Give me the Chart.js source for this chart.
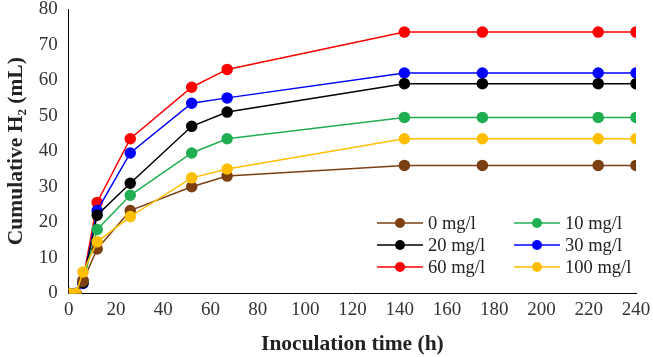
<!DOCTYPE html>
<html>
<head>
<meta charset="utf-8">
<script src="https://cdn.jsdelivr.net/npm/chart.js@4"></script>
<style>
  html, body { margin: 0; padding: 0; background: #fff; }
  #wrap { width: 653px; height: 357px; }
</style>
</head>
<body>
<div id="wrap"><canvas id="h2Chart"></canvas></div>
<script>
// Inoculation time (h)
const hours = [0, 3, 6, 12, 26, 52, 67, 142, 175, 224, 240];

// cumulative H2 (mL) per dose
const dose0 = [0, 0, 3.5, 12.5, 23.3, 30, 33, 36, 36, 36, 36];
const dose10 = [0, 0, 3.5, 18, 27.6, 39.5, 43.5, 49.5, 49.5, 49.5, 49.5];
const dose20 = [0, 0, 3, 22, 31, 47, 51, 59, 59, 59, 59];
const dose30 = [0, 0, 2.8, 23.3, 39.5, 53.5, 55, 62, 62, 62, 62];
const dose60 = [0, 0, 3.7, 25.6, 43.5, 58, 63, 73.5, 73.5, 73.5, 73.5];
const dose100 = [0, 0, 6, 14.5, 21.6, 32.5, 35, 43.5, 43.5, 43.5, 43.5];

const labels = ['0 mg/l', '10 mg/l', '20 mg/l', '30 mg/l', '60 mg/l', '100 mg/l'];
const colors = ['#7b3f12', '#1fae50', '#000000', '#0000ff', '#ff0000', '#ffbe00'];
const series = [dose0, dose10, dose20, dose30, dose60, dose100];

const xTicks = [0, 20, 40, 60, 80, 100, 120, 140, 160, 180, 200, 220, 240];

const datasets = series.map((vals, i) => ({
    label: labels[i],
    data: hours.map((h, j) => ({ x: h, y: vals[j] })),
    borderColor: colors[i],
    backgroundColor: colors[i],
    borderWidth: 1.5,
    pointRadius: 5,
    pointHoverRadius: 5,
    fill: false,
    tension: 0
}));

// draw order: yellow and brown under the rest like the original
const ordered = [datasets[5], datasets[0], datasets[1], datasets[2], datasets[3], datasets[4]];

// legend drawn inside the plot, two columns
const boxLegend = {
    id: 'boxLegend',
    afterDraw(chart) {
        const c = chart.ctx;
        const cols = [377, 514];
        const rows = [223, 245, 267];
        c.save();
        c.font = '18.5px "Liberation Serif"';
        c.textBaseline = 'middle';
        datasets.forEach((ds, i) => {
            const x = cols[i % 2];
            const y = rows[Math.floor(i / 2)];
            c.strokeStyle = ds.borderColor;
            c.lineWidth = 1.5;
            c.beginPath();
            c.moveTo(x, y);
            c.lineTo(x + 46, y);
            c.stroke();
            c.fillStyle = ds.borderColor;
            c.beginPath();
            c.arc(x + 23, y, 5, 0, Math.PI * 2);
            c.fill();
            c.fillStyle = '#222';
            c.fillText(ds.label, x + 51, y + 1);
        });
        c.restore();
    }
};

const ctx = document.getElementById('h2Chart').getContext('2d');
new Chart(ctx, {
    type: 'line',
    data: { datasets: ordered },
    plugins: [boxLegend],
    options: {
        responsive: true,
        maintainAspectRatio: false,
        animation: false,
        layout: { autoPadding: false, padding: { top: 9, right: 17, bottom: 0, left: 4 } },
        plugins: {
            legend: { display: false },
            tooltip: { enabled: false }
        },
        scales: {
            x: {
                type: 'linear',
                min: 0,
                max: 240,
                afterBuildTicks: (axis) => { axis.ticks = xTicks.map(v => ({ value: v })); },
                grid: { display: false, drawTicks: true, tickLength: 5, tickColor: '#000' },
                border: { color: '#000', width: 1 },
                ticks: {
                    color: '#333',
                    font: { family: 'Liberation Serif', size: 19 },
                    maxRotation: 0,
                    autoSkip: false,
                    padding: 0
                },
                title: {
                    display: true,
                    text: 'Inoculation time (h)',
                    color: '#222',
                    font: { family: 'Liberation Serif', size: 21.5, weight: 'bold' },
                    padding: { top: 10, bottom: 0 }
                }
            },
            y: {
                min: 0,
                max: 80,
                afterFit: (axis) => { axis.paddingTop = 0; },
                ticks: {
                    stepSize: 10,
                    color: '#333',
                    font: { family: 'Liberation Serif', size: 19 },
                    padding: 6
                },
                grid: { display: false, drawTicks: true, tickLength: 5, tickColor: '#000' },
                border: { color: '#000', width: 1 },
                title: {
                    display: true,
                    text: 'Cumulative H\u2082 (mL)',
                    color: '#222',
                    font: { family: 'Liberation Serif', size: 21.5, weight: 'bold' },
                    padding: { top: 0, bottom: 3 }
                }
            }
        }
    }
});
</script>
</body>
</html>
